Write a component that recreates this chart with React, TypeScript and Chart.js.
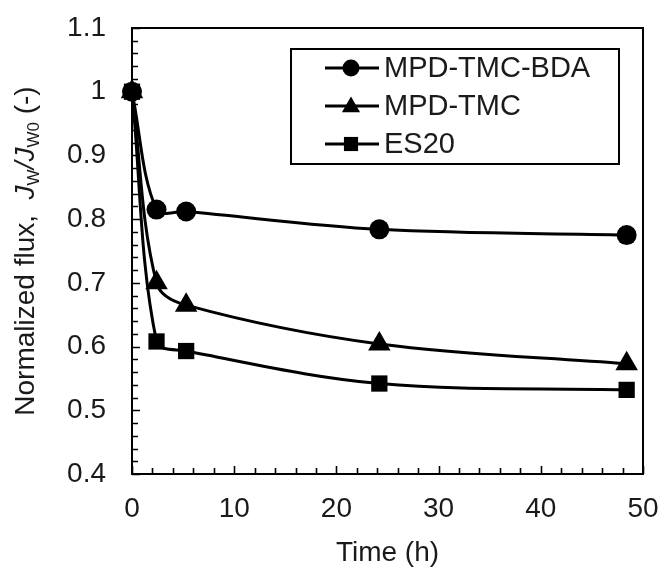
import React, { useEffect, useRef } from 'react';
import { Chart, registerables } from 'chart.js';

Chart.register(...registerables);

// ---- data ----
const timeH = [0, 2.4, 5.3, 24.2, 48.4];
const bdaFlux = [1.0, 0.815, 0.812, 0.784, 0.775];
const tmcFlux = [1.0, 0.7, 0.665, 0.604, 0.573];
const es20Flux = [1.0, 0.608, 0.593, 0.542, 0.532];
const seriesNames = ['MPD-TMC-BDA', 'MPD-TMC', 'ES20'];
const xTickValues = [0, 10, 20, 30, 40, 50];
const yTickValues = [0.4, 0.5, 0.6, 0.7, 0.8, 0.9, 1.0, 1.1];
const yTickLabels = ['0.4', '0.5', '0.6', '0.7', '0.8', '0.9', '1', '1.1'];
const xTitle = 'Time (h)';

const FONT = '"Liberation Sans", Arial, Helvetica, sans-serif';

type Seg = { t: string; size: number; italic?: boolean; dy?: number };
const yTitleSegs: Seg[] = [
  { t: 'Normalized flux,  ', size: 28 },
  { t: 'J', size: 28, italic: true },
  { t: 'W', size: 17, dy: 5 },
  { t: '/', size: 28, italic: true },
  { t: 'J', size: 28, italic: true },
  { t: 'W0', size: 17, dy: 5 },
  { t: ' (-)', size: 28 },
];

function drawMarker(ctx: CanvasRenderingContext2D, style: string, x: number, y: number, r: number) {
  ctx.beginPath();
  if (style === 'circle') {
    ctx.arc(x, y, r, 0, Math.PI * 2);
  } else if (style === 'triangle') {
    ctx.moveTo(x, y - r);
    ctx.lineTo(x + r * 0.866, y + r * 0.5);
    ctx.lineTo(x - r * 0.866, y + r * 0.5);
    ctx.closePath();
  } else {
    const s = r * Math.SQRT1_2;
    ctx.rect(x - s, y - s, 2 * s, 2 * s);
  }
  ctx.fill();
}

const decorPlugin = {
  id: 'decor',
  beforeDatasetsDraw(chart: any) {
    const { ctx, chartArea: a, scales } = chart;
    ctx.save();
    ctx.strokeStyle = '#000';
    ctx.lineWidth = 2;
    ctx.strokeRect(a.left, a.top, a.right - a.left, a.bottom - a.top);
    ctx.lineWidth = 1.6;
    ctx.beginPath();
    const xs = scales.x;
    for (let i = 0; i <= 25; i++) {
      const v = i * 2;
      const px = Math.round(xs.getPixelForValue(v)) + 0.5;
      const len = i % 5 === 0 ? 8 : 6;
      ctx.moveTo(px, a.bottom);
      ctx.lineTo(px, a.bottom - len);
    }
    const ys = scales.y;
    for (let i = 0; i <= 35; i++) {
      const v = 0.4 + i * 0.02;
      const py = Math.round(ys.getPixelForValue(v)) + 0.5;
      const len = i % 5 === 0 ? 8 : 6;
      ctx.moveTo(a.left, py);
      ctx.lineTo(a.left + len, py);
    }
    ctx.stroke();
    ctx.restore();
  },
  afterDraw(chart: any) {
    const { ctx, chartArea: a } = chart;
    ctx.save();
    ctx.fillStyle = '#1a1a1a';
    // x title
    ctx.font = `28px ${FONT}`;
    ctx.textAlign = 'center';
    ctx.textBaseline = 'alphabetic';
    ctx.fillText(xTitle, (a.left + a.right) / 2, 561);
    // y title
    ctx.save();
    ctx.translate(34, (a.top + a.bottom) / 2);
    ctx.rotate(-Math.PI / 2);
    ctx.textAlign = 'left';
    let total = 0;
    const widths = yTitleSegs.map((s) => {
      ctx.font = `${s.italic ? 'italic ' : ''}${s.size}px ${FONT}`;
      const w = ctx.measureText(s.t).width;
      total += w;
      return w;
    });
    let x = -total / 2;
    yTitleSegs.forEach((s, i) => {
      ctx.font = `${s.italic ? 'italic ' : ''}${s.size}px ${FONT}`;
      ctx.fillText(s.t, x, s.dy || 0);
      x += widths[i];
    });
    ctx.restore();

    // legend
    const bx = 291, by = 49, bw = 328, bh = 115;
    ctx.fillStyle = '#fff';
    ctx.fillRect(bx, by, bw, bh);
    ctx.strokeStyle = '#000';
    ctx.lineWidth = 2;
    ctx.strokeRect(bx, by, bw, bh);
    const rows = [68, 106, 144];
    chart.data.datasets.forEach((ds: any, i: number) => {
      const y = rows[i];
      ctx.strokeStyle = '#000';
      ctx.lineWidth = 3;
      ctx.beginPath();
      ctx.moveTo(325, y);
      ctx.lineTo(379, y);
      ctx.stroke();
      ctx.fillStyle = '#000';
      const r = ds.pointStyle === 'circle' ? 8.5 : ds.pointStyle === 'triangle' ? 10.5 : 10;
      drawMarker(ctx, ds.pointStyle, 351, ds.pointStyle === 'triangle' ? y + 1 : y, r);
      ctx.fillStyle = '#1a1a1a';
      ctx.font = `29px ${FONT}`;
      ctx.textAlign = 'left';
      ctx.textBaseline = 'middle';
      ctx.fillText(ds.label, 384, y + 1);
    });
    ctx.restore();
  },
};

export default function App() {
  const ref = useRef<HTMLCanvasElement>(null);
  useEffect(() => {
    document.body.style.margin = '0';
    const mk = (label: string, vals: number[], style: string, r: number) => ({
      label,
      data: timeH.map((t, i) => ({ x: t, y: vals[i] })),
      borderColor: '#000',
      backgroundColor: '#000',
      borderWidth: 3,
      pointStyle: style,
      pointRadius: r,
      pointBorderWidth: 0,
      pointBackgroundColor: '#000',
      tension: 0.35,
      clip: false as any,
    });
    const chart = new Chart(ref.current!, {
      type: 'line',
      data: {
        datasets: [
          mk(seriesNames[0], bdaFlux, 'circle', 10),
          mk(seriesNames[1], tmcFlux, 'triangle', 13),
          mk(seriesNames[2], es20Flux, 'rect', 11.5),
        ],
      },
      options: {
        responsive: false,
        devicePixelRatio: 1,
        animation: false,
        layout: { padding: { top: 28, right: 21, left: 0, bottom: 0 } },
        plugins: { legend: { display: false }, tooltip: { enabled: false } },
        scales: {
          x: {
            type: 'linear',
            min: 0,
            max: 50,
            afterBuildTicks: (s: any) => {
              s.ticks = xTickValues.map((v) => ({ value: v }));
            },
            afterFit: (s: any) => {
              s.height = 94;
              s.paddingLeft = 0;
              s.paddingRight = 0;
            },
            ticks: {
              font: { family: FONT, size: 28 },
              color: '#1a1a1a',
              padding: 18,
              maxRotation: 0,
              callback: (v: any) => String(v),
            },
            grid: { display: false, drawTicks: false },
            border: { display: false },
          },
          y: {
            type: 'linear',
            min: 0.4,
            max: 1.1,
            afterBuildTicks: (s: any) => {
              s.ticks = yTickValues.map((v) => ({ value: v }));
            },
            afterFit: (s: any) => {
              s.width = 132;
              s.paddingTop = 0;
              s.paddingBottom = 0;
            },
            ticks: {
              font: { family: FONT, size: 28 },
              color: '#1a1a1a',
              padding: 26,
              callback: (v: any) => {
                const i = yTickValues.findIndex((t) => Math.abs(t - v) < 1e-6);
                return i >= 0 ? yTickLabels[i] : '';
              },
            },
            grid: { display: false, drawTicks: false },
            border: { display: false },
          },
        },
      } as any,
      plugins: [decorPlugin],
    });
    return () => chart.destroy();
  }, []);
  return (
    <div style={{ width: 664, height: 568, background: '#fff' }}>
      <canvas ref={ref} width={664} height={568} style={{ display: 'block' }} />
    </div>
  );
}
